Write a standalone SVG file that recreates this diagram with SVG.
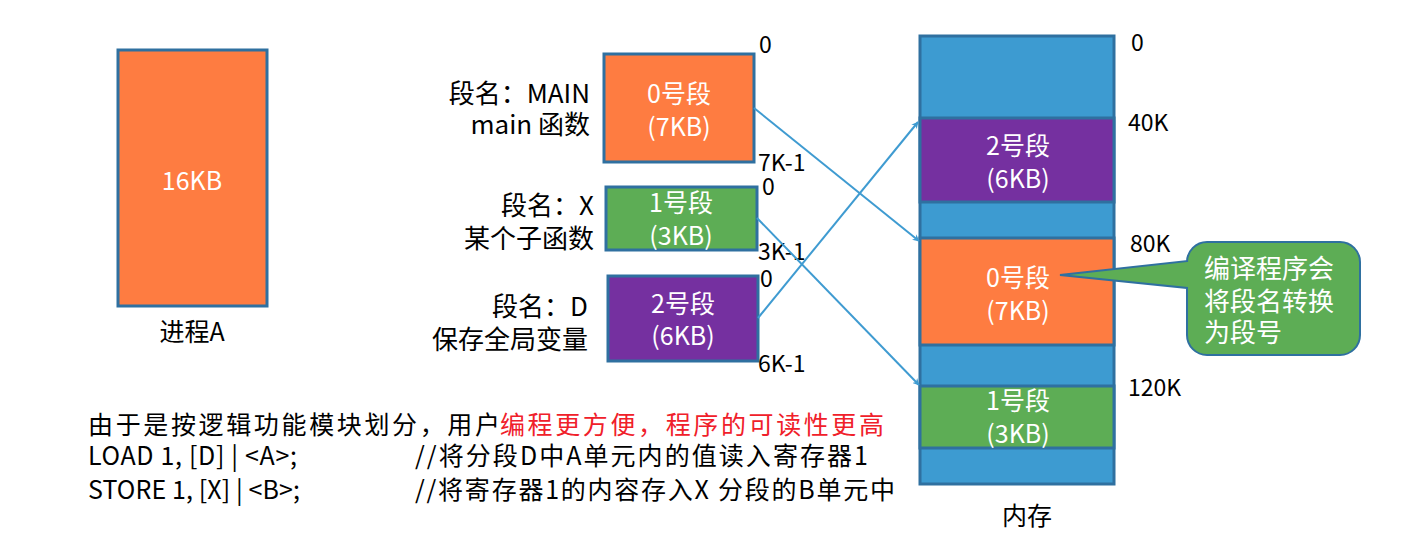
<svg xmlns="http://www.w3.org/2000/svg" width="1415" height="544" viewBox="0 0 1415 544">
<style>
text{font-family:"Noto Sans CJK SC","Noto Sans",sans-serif;}
.t{font-size:25px;fill:#000;}
.l{font-size:26px;fill:#000;text-anchor:end;}
.w{font-size:25px;fill:#fff;text-anchor:middle;}
.lbl{font-size:23px;fill:#000;}
.edge{stroke:#3F9BD1;stroke-width:2;fill:none;marker-end:url(#ah);}
.bd{stroke:#2F70A0;stroke-width:3;}
</style>
<defs>
<marker id="ah" viewBox="0 0 10 10" refX="9" refY="5" markerWidth="7" markerHeight="7" orient="auto" markerUnits="userSpaceOnUse"><path d="M0,0 L10,5 L0,10 L3,5 Z" fill="#3F9BD1"/></marker>
</defs>
<rect width="1415" height="544" fill="#fff"/>

<g id="processA">
<rect x="118" y="50" width="149" height="256" fill="#FE7C41" class="bd"/>
<text class="w" x="192" y="190">16KB</text>
<text class="t" x="192" y="341" text-anchor="middle">进程A</text>
</g>

<g id="seg0">
<rect x="604" y="54" width="150" height="108" fill="#FE7C41" class="bd"/>
<text class="w" x="679" y="103">0号段</text>
<text class="w" x="679" y="136">(7KB)</text>
<text class="l" x="590" y="103">段名：MAIN</text>
<text class="l" x="590" y="134">main 函数</text>
<text class="lbl" x="759" y="53">0</text>
<text class="lbl" x="758" y="171">7K-1</text>
</g>

<g id="seg1">
<rect x="606" y="187" width="151" height="63" fill="#5DAD55" class="bd"/>
<text class="w" x="681" y="212">1号段</text>
<text class="w" x="681" y="245">(3KB)</text>
<text class="l" x="594" y="215">段名：X</text>
<text class="l" x="594" y="248">某个子函数</text>
<text class="lbl" x="762" y="195">0</text>
<text class="lbl" x="758" y="260">3K-1</text>
</g>

<g id="seg2">
<rect x="608" y="276" width="150" height="85" fill="#7530A0" class="bd"/>
<text class="w" x="683" y="313">2号段</text>
<text class="w" x="683" y="345">(6KB)</text>
<text class="l" x="588" y="316">段名：D</text>
<text class="l" x="588" y="349">保存全局变量</text>
<text class="lbl" x="760" y="287">0</text>
<text class="lbl" x="758" y="372">6K-1</text>
</g>

<g id="memory">
<rect x="920" y="36" width="194" height="448" fill="#3D9BD1" class="bd"/>
<rect x="920" y="118" width="194" height="84" fill="#7530A0" class="bd"/>
<rect x="920" y="238" width="194" height="107" fill="#FE7C41" class="bd"/>
<rect x="920" y="386" width="194" height="62" fill="#5DAD55" class="bd"/>
<text class="w" x="1018" y="155">2号段</text>
<text class="w" x="1018" y="188">(6KB)</text>
<text class="w" x="1018" y="287">0号段</text>
<text class="w" x="1018" y="320">(7KB)</text>
<text class="w" x="1018" y="410">1号段</text>
<text class="w" x="1018" y="443">(3KB)</text>
<text class="lbl" x="1131" y="51">0</text>
<text class="lbl" x="1128" y="131">40K</text>
<text class="lbl" x="1130" y="252">80K</text>
<text class="lbl" x="1128" y="396">120K</text>
<text class="t" x="1027" y="525" text-anchor="middle">内存</text>
</g>

<g id="callout">
<path d="M1207,242 H1340 A20,20 0 0 1 1360,262 V335 A20,20 0 0 1 1340,355 H1207 A20,20 0 0 1 1187,335 V288 L1060,275 L1187,261 V262 A20,20 0 0 1 1207,242 Z" fill="#5DAD55" stroke="#2F70A0" stroke-width="2"/>
<text x="1204" y="278" style="font-size:26px;fill:#fff">编译程序会</text>
<text x="1204" y="311" style="font-size:26px;fill:#fff">将段名转换</text>
<text x="1204" y="342" style="font-size:26px;fill:#fff">为段号</text>
</g>

<g id="connectors">
<line class="edge" x1="754" y1="108" x2="919" y2="241"/>
<line class="edge" x1="757" y1="218" x2="919" y2="385"/>
<line class="edge" x1="758" y1="318" x2="918" y2="122"/>
</g>

<g id="notes">
<text class="t" x="88" y="434" textLength="412">由于是按逻辑功能模块划分，用户</text>
<text class="t" x="500" y="434" textLength="384" style="fill:#F0202A">编程更方便，程序的可读性更高</text>
<text class="t" x="88" y="465" textLength="209">LOAD 1, [D] | &lt;A&gt;;</text>
<text class="t" x="415" y="465" textLength="453">//将分段D中A单元内的值读入寄存器1</text>
<text class="t" x="88" y="499" textLength="212">STORE 1, [X] | &lt;B&gt;;</text>
<text class="t" x="415" y="499" textLength="480">//将寄存器1的内容存入X 分段的B单元中</text>
</g>
</svg>
